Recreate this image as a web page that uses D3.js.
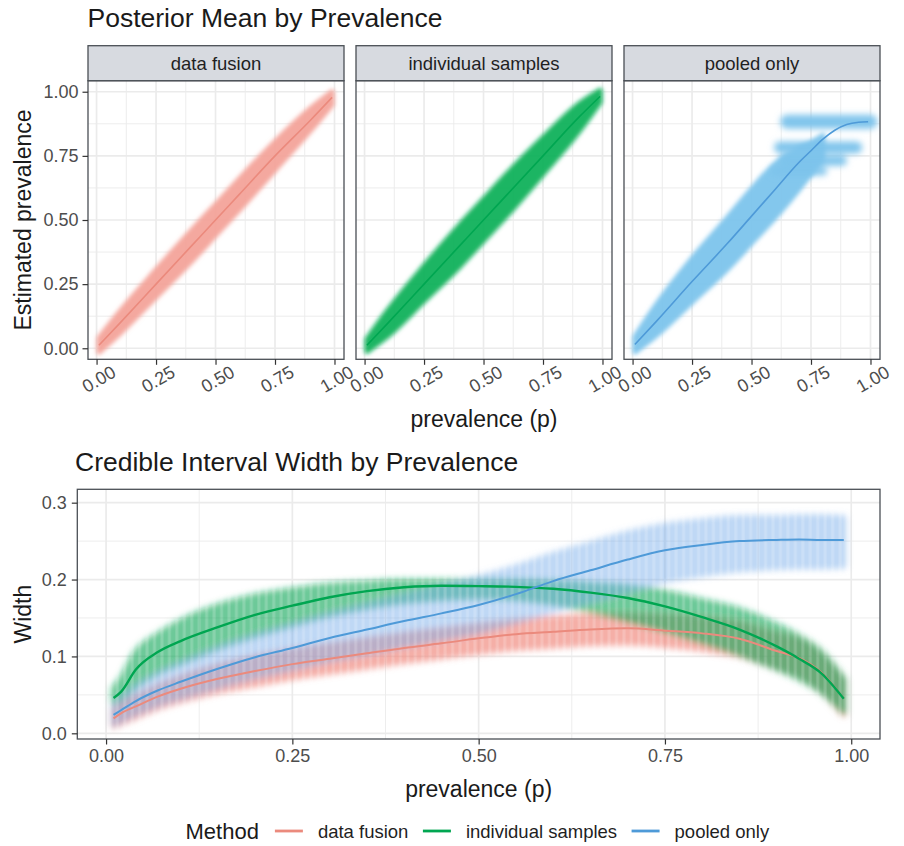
<!DOCTYPE html>
<html><head><meta charset="utf-8">
<script src="https://cdn.jsdelivr.net/npm/d3@7"></script>
<style>body{margin:0;background:#fff}svg{display:block}text{font-family:"Liberation Sans",Arial,Helvetica,sans-serif}</style>
</head><body><svg id="c" width="904" height="846"></svg>
<script>
// ---------- DATA ----------
const facets = ["data fusion", "individual samples", "pooled only"];
const methods = ["data fusion", "individual samples", "pooled only"];
const tickVals = [0, 0.25, 0.5, 0.75, 1];
const minorVals = [0.125, 0.375, 0.625, 0.875];
const widthYTicks = [0, 0.1, 0.2, 0.3];
const widthYMinor = [0.05, 0.15, 0.25];

// Top: posterior mean vs prevalence (band = spread of point cloud)
const topP = [0.01, 0.1, 0.25, 0.4, 0.5, 0.6, 0.75, 0.9, 0.99];
const fusionTopMean = [0.012, 0.1, 0.25, 0.4, 0.5, 0.6, 0.75, 0.89, 0.978];
const fusionTopLo   = [-0.015, 0.06, 0.2, 0.34, 0.44, 0.54, 0.695, 0.85, 0.95];
const fusionTopHi   = [0.04, 0.145, 0.305, 0.46, 0.56, 0.66, 0.805, 0.935, 1.0];
const indivTopMean  = [0.012, 0.1, 0.25, 0.4, 0.5, 0.6, 0.75, 0.9, 0.982];
const indivTopLo    = [-0.012, 0.05, 0.185, 0.32, 0.42, 0.52, 0.68, 0.845, 0.96];
const indivTopHi    = [0.035, 0.15, 0.32, 0.48, 0.58, 0.68, 0.82, 0.95, 1.005];
const pooledTopP    = [0.01, 0.1, 0.25, 0.4, 0.5, 0.6, 0.7, 0.75, 0.8, 0.85, 0.9, 0.95, 0.99];
const pooledTopMean = [0.015, 0.105, 0.26, 0.41, 0.515, 0.62, 0.725, 0.77, 0.815, 0.85, 0.872, 0.881, 0.883];
const pooledBandP   = [0.01, 0.1, 0.25, 0.4, 0.5, 0.6, 0.7, 0.75, 0.8];
const pooledBandLo  = [-0.015, 0.05, 0.18, 0.31, 0.41, 0.51, 0.62, 0.68, 0.74];
const pooledBandHi  = [0.045, 0.17, 0.35, 0.51, 0.62, 0.72, 0.78, 0.8, 0.83];
const streakLevel   = [0.883, 0.783, 0.731, 0.69];
const streakFrom    = [0.65, 0.62, 0.64, 0.6];
const streakTo      = [1.0, 0.94, 0.88, 0.8];

// Bottom: credible interval width vs prevalence
const widthP = [0.01,0.02,0.04,0.07,0.1,0.15,0.2,0.25,0.3,0.35,0.4,0.45,0.5,0.55,0.6,0.65,0.7,0.75,0.8,0.85,0.9,0.93,0.96,0.99];
const fusionWMean = [0.0195,0.026,0.035,0.048,0.058,0.071,0.081,0.09,0.097,0.104,0.111,0.117,0.1235,0.129,0.132,0.135,0.1365,0.1335,0.13,0.123,0.107,0.098,0.079,0.045];
const fusionWLo   = [0.01,0.014,0.022,0.034,0.043,0.055,0.064,0.073,0.08,0.087,0.094,0.1,0.106,0.111,0.114,0.117,0.118,0.115,0.11,0.102,0.086,0.076,0.056,0.025];
const fusionWHi   = [0.03,0.037,0.047,0.061,0.072,0.087,0.098,0.107,0.114,0.121,0.128,0.134,0.14,0.145,0.149,0.152,0.153,0.151,0.148,0.142,0.128,0.12,0.1,0.068];
const indivWMean  = [0.046,0.054,0.083,0.106,0.12,0.138,0.154,0.166,0.177,0.185,0.19,0.192,0.1915,0.1905,0.188,0.183,0.176,0.165,0.151,0.135,0.113,0.097,0.078,0.045];
const indivWLo    = [0.04,0.045,0.062,0.08,0.092,0.112,0.128,0.142,0.155,0.165,0.172,0.176,0.178,0.176,0.17,0.16,0.148,0.135,0.12,0.104,0.085,0.072,0.055,0.028];
const indivWHi    = [0.058,0.07,0.105,0.128,0.145,0.165,0.178,0.186,0.192,0.195,0.197,0.197,0.197,0.197,0.196,0.193,0.19,0.183,0.172,0.16,0.14,0.125,0.105,0.07];
const pooledWMean = [0.024,0.03,0.042,0.056,0.067,0.084,0.099,0.111,0.124,0.135,0.146,0.156,0.167,0.181,0.198,0.212,0.226,0.238,0.245,0.25,0.2515,0.252,0.2515,0.2515];
const pooledWLo   = [0.012,0.017,0.026,0.038,0.047,0.061,0.074,0.085,0.096,0.105,0.115,0.124,0.133,0.146,0.16,0.173,0.186,0.199,0.207,0.213,0.216,0.217,0.217,0.218];
const pooledWHi   = [0.036,0.045,0.06,0.077,0.09,0.11,0.126,0.14,0.154,0.166,0.178,0.19,0.202,0.216,0.232,0.246,0.26,0.27,0.276,0.28,0.28,0.281,0.281,0.28];

// ---------- STYLE ----------
const lineCol = {"data fusion":"#EB8A7D","individual samples":"#00A651","pooled only":"#4E9AD8"};
const topBandCol = {"data fusion":"#F4A399","individual samples":"#0DB15A","pooled only":"#7CC4EC"};
const botBandCol = {"data fusion":"#F08A7E","individual samples":"#14A85A","pooled only":"#7AAEEA"};
const botBandOp = {"data fusion":0.68,"individual samples":0.62,"pooled only":0.48};
const GRID = "#EBEBEB", BORDER = "#4A4F55", TICKTXT = "#4D4D4D", TITLE = "#1A1A1A";
const FF = "Liberation Sans, Arial, sans-serif";
const TICKFS = 18, AXTFS = 23, TITLEFS = 26.5;

const svg = d3.select("#c");
const defs = svg.append("defs");
function blur(id, sd){
  defs.append("filter").attr("id", id).attr("filterUnits","userSpaceOnUse")
    .attr("x",0).attr("y",0).attr("width",904).attr("height",846)
    .append("feGaussianBlur").attr("stdDeviation", sd);
}
blur("bT", 2.2); blur("bS", 3); blur("bB", 3.2);

function rows(p, a, b, c){ return p.map((v,i)=>({p:v, m:a ? a[i] : null, lo:b ? b[i] : null, hi:c ? c[i] : null})); }

// ---------- TOP ----------
svg.append("text").attr("x",87.5).attr("y",27).attr("font-size",TITLEFS).attr("fill",TITLE).text("Posterior Mean by Prevalence");

const tY0 = 80.7, tY1 = 359.3, stripTop = 45.7;
const yTop = d3.scaleLinear().domain([-0.043, 1.043]).range([tY1, tY0]);
const topData = {
  "data fusion": {line: rows(topP, fusionTopMean), band: rows(topP, null, fusionTopLo, fusionTopHi)},
  "individual samples": {line: rows(topP, indivTopMean), band: rows(topP, null, indivTopLo, indivTopHi)},
  "pooled only": {line: rows(pooledTopP, pooledTopMean), band: rows(pooledBandP, null, pooledBandLo, pooledBandHi)}
};

facets.forEach((name, i) => {
  const ox = 88 + i * 268;
  const x = d3.scaleLinear().domain([-0.036, 1.04]).range([ox, ox + 256]);
  const g = svg.append("g");
  g.append("rect").attr("x",ox).attr("y",tY0).attr("width",256).attr("height",tY1-tY0).attr("fill","#fff");
  g.selectAll(null).data(minorVals).join("line").attr("x1",d=>x(d)).attr("x2",d=>x(d)).attr("y1",tY0).attr("y2",tY1).attr("stroke",GRID).attr("stroke-width",0.9);
  g.selectAll(null).data(minorVals).join("line").attr("y1",d=>yTop(d)).attr("y2",d=>yTop(d)).attr("x1",ox).attr("x2",ox+256).attr("stroke",GRID).attr("stroke-width",0.9);
  g.selectAll(null).data(tickVals).join("line").attr("x1",d=>x(d)).attr("x2",d=>x(d)).attr("y1",tY0).attr("y2",tY1).attr("stroke",GRID).attr("stroke-width",1.7);
  g.selectAll(null).data(tickVals).join("line").attr("y1",d=>yTop(d)).attr("y2",d=>yTop(d)).attr("x1",ox).attr("x2",ox+256).attr("stroke",GRID).attr("stroke-width",1.7);

  defs.append("clipPath").attr("id","clipT"+i).append("rect").attr("x",ox).attr("y",tY0).attr("width",256).attr("height",tY1-tY0);
  const d = g.append("g").attr("clip-path",`url(#clipT${i})`);
  const area = d3.area().x(r=>x(r.p)).y0(r=>yTop(r.lo)).y1(r=>yTop(r.hi)).curve(d3.curveMonotoneX);
  const td = topData[name];
  const bg = d.append("g").attr("filter","url(#bT)");
  bg.append("path").datum(td.band).attr("d",area).attr("fill",topBandCol[name]).attr("stroke",topBandCol[name])
    .attr("stroke-width",5).attr("stroke-linejoin","round").attr("opacity",0.94);
  if (name === "pooled only") {
    const sg = d.append("g").attr("filter","url(#bS)");
    sg.selectAll(null).data(streakLevel.map((lv,k)=>({lv, a:streakFrom[k], b:streakTo[k], k}))).join("line")
      .attr("x1",r=>x(r.a)).attr("x2",r=>x(r.b)).attr("y1",r=>yTop(r.lv)).attr("y2",r=>yTop(r.lv))
      .attr("stroke",topBandCol[name]).attr("stroke-width",r=>[14,12,10,8][r.k]).attr("stroke-linecap","round").attr("opacity",0.97);
  }
  const line = d3.line().x(r=>x(r.p)).y(r=>yTop(r.m)).curve(d3.curveMonotoneX);
  d.append("path").datum(td.line).attr("d",line).attr("fill","none").attr("stroke",lineCol[name]).attr("stroke-width",1.6);

  g.append("rect").attr("x",ox).attr("y",tY0).attr("width",256).attr("height",tY1-tY0).attr("fill","none").attr("stroke",BORDER).attr("stroke-width",1.3);
  g.append("rect").attr("x",ox).attr("y",stripTop).attr("width",256).attr("height",tY0-stripTop).attr("fill","#D7DAE0").attr("stroke",BORDER).attr("stroke-width",1.3);
  g.append("text").attr("x",ox+128).attr("y",70).attr("text-anchor","middle").attr("font-size",18.5).attr("fill","#1F1F1F").text(name);

  const ax = svg.append("g").attr("transform",`translate(0,${tY1})`)
    .call(d3.axisBottom(x).tickValues(tickVals).tickFormat(d3.format(".2f")).tickSize(5.5));
  ax.select(".domain").remove();
  ax.selectAll(".tick line").attr("stroke","#333").attr("stroke-width",1.2);
  ax.selectAll(".tick text").attr("x",0).attr("y",0).attr("dy",0).attr("text-anchor","end")
    .attr("transform","translate(20,16.5) rotate(-30)").attr("font-size",TICKFS).attr("fill",TICKTXT).attr("font-family",FF);
  if (i === 0) {
    const ay = svg.append("g").attr("transform",`translate(${ox},0)`)
      .call(d3.axisLeft(yTop).tickValues(tickVals).tickFormat(d3.format(".2f")).tickSize(5.5).tickPadding(4));
    ay.select(".domain").remove();
    ay.selectAll(".tick line").attr("stroke","#333").attr("stroke-width",1.2);
    ay.selectAll(".tick text").attr("font-size",TICKFS).attr("fill",TICKTXT).attr("font-family",FF);
  }
});
svg.append("text").attr("x",484).attr("y",427).attr("text-anchor","middle").attr("font-size",AXTFS).attr("fill",TITLE).text("prevalence (p)");
svg.append("text").attr("transform",`translate(31,${(tY0+tY1)/2}) rotate(-90)`).attr("text-anchor","middle").attr("font-size",AXTFS).attr("fill",TITLE).text("Estimated prevalence");

// ---------- BOTTOM ----------
svg.append("text").attr("x",75).attr("y",471).attr("font-size",TITLEFS).attr("fill",TITLE).text("Credible Interval Width by Prevalence");
const bX0 = 77.3, bX1 = 880, bY0 = 489.3, bY1 = 739;
const xB = d3.scaleLinear().domain([-0.0386, 1.0386]).range([bX0, bX1]);
const yB = d3.scaleLinear().domain([-0.0074, 0.3174]).range([bY1, bY0]);
const gb = svg.append("g");
gb.append("rect").attr("x",bX0).attr("y",bY0).attr("width",bX1-bX0).attr("height",bY1-bY0).attr("fill","#fff");
gb.selectAll(null).data(minorVals).join("line").attr("x1",d=>xB(d)).attr("x2",d=>xB(d)).attr("y1",bY0).attr("y2",bY1).attr("stroke",GRID).attr("stroke-width",0.9);
gb.selectAll(null).data(widthYMinor).join("line").attr("y1",d=>yB(d)).attr("y2",d=>yB(d)).attr("x1",bX0).attr("x2",bX1).attr("stroke",GRID).attr("stroke-width",0.9);
gb.selectAll(null).data(tickVals).join("line").attr("x1",d=>xB(d)).attr("x2",d=>xB(d)).attr("y1",bY0).attr("y2",bY1).attr("stroke",GRID).attr("stroke-width",1.7);
gb.selectAll(null).data(widthYTicks).join("line").attr("y1",d=>yB(d)).attr("y2",d=>yB(d)).attr("x1",bX0).attr("x2",bX1).attr("stroke",GRID).attr("stroke-width",1.7);

// column texture (points sit on a 0.01 grid of prevalence)
const period = xB(0.02) - xB(0.01);
const pat = defs.append("pattern").attr("id","cols").attr("patternUnits","userSpaceOnUse")
  .attr("x", xB(0.01) - period/2).attr("y",0).attr("width",period).attr("height",846);
pat.append("rect").attr("width",period).attr("height",846).attr("fill","#cfcfcf");
pat.append("rect").attr("x",period*0.2).attr("width",period*0.6).attr("height",846).attr("fill","#fff");
defs.append("mask").attr("id","colMask").attr("maskUnits","userSpaceOnUse").attr("x",0).attr("y",0).attr("width",904).attr("height",846)
  .append("rect").attr("width",904).attr("height",846).attr("fill","url(#cols)");

defs.append("clipPath").attr("id","clipB").append("rect").attr("x",bX0).attr("y",bY0).attr("width",bX1-bX0).attr("height",bY1-bY0);
const db = gb.append("g").attr("clip-path","url(#clipB)");
const botData = {
  "data fusion": rows(widthP, fusionWMean, fusionWLo, fusionWHi),
  "individual samples": rows(widthP, indivWMean, indivWLo, indivWHi),
  "pooled only": rows(widthP, pooledWMean, pooledWLo, pooledWHi)
};
const areaB = d3.area().x(r=>xB(r.p)).y0(r=>yB(r.lo)).y1(r=>yB(r.hi)).curve(d3.curveMonotoneX);
const lineB = d3.line().x(r=>xB(r.p)).y(r=>yB(r.m)).curve(d3.curveMonotoneX);
const bandG = db.append("g").attr("mask","url(#colMask)").append("g").attr("filter","url(#bB)");
methods.forEach(m => {
  bandG.append("path").datum(botData[m]).attr("d",areaB).attr("fill",botBandCol[m]).attr("stroke",botBandCol[m])
    .attr("stroke-width",6).attr("stroke-linejoin","round").attr("opacity",botBandOp[m]);
});
methods.forEach(m => {
  db.append("path").datum(botData[m]).attr("d",lineB).attr("fill","none").attr("stroke",lineCol[m])
    .attr("stroke-width", m === "individual samples" ? 2.4 : 2);
});
gb.append("rect").attr("x",bX0).attr("y",bY0).attr("width",bX1-bX0).attr("height",bY1-bY0).attr("fill","none").attr("stroke",BORDER).attr("stroke-width",1.3);

const axB = svg.append("g").attr("transform",`translate(0,${bY1})`)
  .call(d3.axisBottom(xB).tickValues(tickVals).tickFormat(d3.format(".2f")).tickSize(5.5).tickPadding(5));
axB.select(".domain").remove();
axB.selectAll(".tick line").attr("stroke","#333").attr("stroke-width",1.2);
axB.selectAll(".tick text").attr("font-size",TICKFS).attr("fill",TICKTXT).attr("font-family",FF);
const ayB = svg.append("g").attr("transform",`translate(${bX0},0)`)
  .call(d3.axisLeft(yB).tickValues(widthYTicks).tickFormat(d3.format(".1f")).tickSize(5.5).tickPadding(5));
ayB.select(".domain").remove();
ayB.selectAll(".tick line").attr("stroke","#333").attr("stroke-width",1.2);
ayB.selectAll(".tick text").attr("font-size",TICKFS).attr("fill",TICKTXT).attr("font-family",FF);

svg.append("text").attr("x",(bX0+bX1)/2).attr("y",797).attr("text-anchor","middle").attr("font-size",AXTFS).attr("fill",TITLE).text("prevalence (p)");
svg.append("text").attr("transform",`translate(31,${(bY0+bY1)/2}) rotate(-90)`).attr("text-anchor","middle").attr("font-size",AXTFS).attr("fill",TITLE).text("Width");

// ---------- LEGEND ----------
const lg = svg.append("g");
const legY = 831;
const mt = lg.append("text").attr("x",185.5).attr("y",839).attr("font-size",22).attr("fill",TITLE).text("Method");
let cx = 185.5 + mt.node().getComputedTextLength() + 16;
methods.forEach(m => {
  lg.append("line").attr("x1",cx).attr("x2",cx+28).attr("y1",legY).attr("y2",legY).attr("stroke",lineCol[m]).attr("stroke-width",2.8);
  const t = lg.append("text").attr("x",cx+43).attr("y",837.5).attr("font-size",18.5).attr("fill","#1F1F1F").text(m);
  cx = cx + 43 + t.node().getComputedTextLength() + 14.5;
});
</script></body></html>
